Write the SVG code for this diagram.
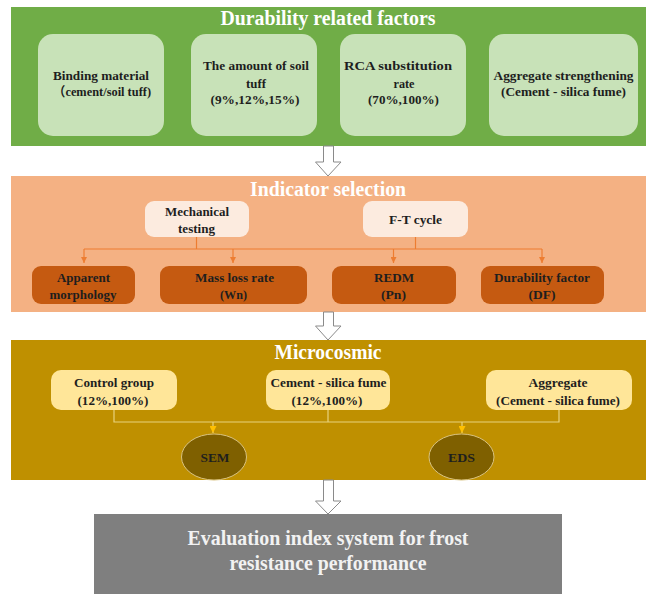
<svg xmlns="http://www.w3.org/2000/svg" width="646" height="594" viewBox="0 0 646 594">
<style>
text{font-family:"Liberation Serif","Times New Roman","Noto Sans CJK SC",serif;font-weight:bold;text-anchor:middle}
.ttl{font-size:20px;fill:#ffffff}
.b{font-size:13px;fill:#1e1e1e}
.big{font-size:21px;fill:#f2f2f2}
.harrow{fill:#ffffff;stroke:#8a8a8a;stroke-width:1}
.oline{fill:none;stroke:#ed7d31;stroke-width:1.2}
.yline{fill:none;stroke:#e8d27c;stroke-width:1.2}
</style>
<defs>
<marker id="ao" viewBox="0 0 10 10" refX="10" refY="5" markerWidth="6" markerHeight="6" orient="auto" markerUnits="userSpaceOnUse"><path d="M0,0 L10,5 L0,10 z" fill="#ed7d31"/></marker>
<marker id="ay" viewBox="0 0 10 10" refX="10" refY="5" markerWidth="7" markerHeight="7" orient="auto" markerUnits="userSpaceOnUse"><path d="M0,0 L10,5 L0,10 z" fill="#ffc000"/></marker>
</defs>
<rect width="646" height="594" fill="#ffffff"/>

<g id="panel-durability">
<rect x="11" y="7" width="640" height="139" fill="#70ad47"/>
<text class="ttl" x="328" y="25" textLength="215" lengthAdjust="spacingAndGlyphs">Durability related factors</text>
</g>
<g id="node-binding">
<rect x="38" y="34" width="126" height="102" rx="15" fill="#c8e2b8"/>
<text class="b" x="101" y="79.5" textLength="96" lengthAdjust="spacingAndGlyphs">Binding material</text>
<text class="b" x="102" y="95.5" textLength="98" lengthAdjust="spacingAndGlyphs">（cement/soil tuff)</text>
</g>
<g id="node-soil-tuff">
<rect x="191" y="34" width="126" height="102" rx="15" fill="#c8e2b8"/>
<text class="b" x="256" y="69.5" textLength="106" lengthAdjust="spacingAndGlyphs">The amount of soil</text>
<text class="b" x="256" y="87.5" textLength="20" lengthAdjust="spacingAndGlyphs">tuff</text>
<text class="b" x="255" y="103.5" textLength="89" lengthAdjust="spacingAndGlyphs">(9%,12%,15%)</text>
</g>
<g id="node-rca">
<rect x="340" y="34" width="126" height="102" rx="15" fill="#c8e2b8"/>
<text class="b" x="398" y="69.5" textLength="108" lengthAdjust="spacingAndGlyphs">RCA substitution</text>
<text class="b" x="404" y="87.5" textLength="21" lengthAdjust="spacingAndGlyphs">rate</text>
<text class="b" x="403.5" y="103.5" textLength="71" lengthAdjust="spacingAndGlyphs">(70%,100%)</text>
</g>
<g id="node-aggregate-strengthening">
<rect x="489" y="34" width="149" height="102" rx="15" fill="#c8e2b8"/>
<text class="b" x="563.5" y="79.5" textLength="140" lengthAdjust="spacingAndGlyphs">Aggregate strengthening</text>
<text class="b" x="563.5" y="95.5" textLength="125" lengthAdjust="spacingAndGlyphs">(Cement - silica fume)</text>
</g>

<g id="panel-indicator">
<rect x="11" y="176" width="640" height="136" fill="#f4b183"/>
<text class="ttl" x="328" y="196" textLength="156" lengthAdjust="spacingAndGlyphs">Indicator selection</text>
</g>
<g id="node-mechanical">
<rect x="145" y="201" width="104" height="36" rx="9" fill="#fcebdf"/>
<text class="b" x="197" y="215.5" textLength="64" lengthAdjust="spacingAndGlyphs">Mechanical</text>
<text class="b" x="196.5" y="232.5" textLength="37" lengthAdjust="spacingAndGlyphs">testing</text>
</g>
<g id="node-ft-cycle">
<rect x="363" y="201" width="105" height="36" rx="9" fill="#fcebdf"/>
<text class="b" x="415.5" y="223.5" textLength="53" lengthAdjust="spacingAndGlyphs">F-T cycle</text>
</g>
<g id="node-apparent">
<rect x="32" y="266" width="103" height="38" rx="9" fill="#c55a11"/>
<text class="b" x="83.5" y="281.5" textLength="53" lengthAdjust="spacingAndGlyphs">Apparent</text>
<text class="b" x="83" y="298.5" textLength="67" lengthAdjust="spacingAndGlyphs">morphology</text>
</g>
<g id="node-mass-loss">
<rect x="160" y="266" width="147" height="38" rx="9" fill="#c55a11"/>
<text class="b" x="234.5" y="281.5" textLength="79" lengthAdjust="spacingAndGlyphs">Mass loss rate</text>
<text class="b" x="233.5" y="298.5" textLength="27" lengthAdjust="spacingAndGlyphs">(Wn)</text>
</g>
<g id="node-redm">
<rect x="332" y="266" width="124" height="38" rx="9" fill="#c55a11"/>
<text class="b" x="394" y="281.5" textLength="40" lengthAdjust="spacingAndGlyphs">REDM</text>
<text class="b" x="393.5" y="298.5" textLength="25" lengthAdjust="spacingAndGlyphs">(Pn)</text>
</g>
<g id="node-durability-factor">
<rect x="481" y="266" width="123" height="38" rx="9" fill="#c55a11"/>
<text class="b" x="542" y="281.5" textLength="96" lengthAdjust="spacingAndGlyphs">Durability factor</text>
<text class="b" x="542" y="298.5" textLength="27" lengthAdjust="spacingAndGlyphs">(DF)</text>
</g>

<g id="panel-microcosmic">
<rect x="11" y="340" width="640" height="140" fill="#bf9000"/>
<text class="ttl" x="328" y="359" textLength="107" lengthAdjust="spacingAndGlyphs">Microcosmic</text>
</g>
<g id="node-control">
<rect x="51" y="370" width="126" height="40" rx="10" fill="#ffe699"/>
<text class="b" x="114" y="386.5" textLength="80" lengthAdjust="spacingAndGlyphs">Control group</text>
<text class="b" x="113" y="404.5" textLength="71" lengthAdjust="spacingAndGlyphs">(12%,100%)</text>
</g>
<g id="node-cement-silica">
<rect x="266" y="370" width="124" height="40" rx="10" fill="#ffe699"/>
<text class="b" x="328.5" y="386.5" textLength="116" lengthAdjust="spacingAndGlyphs">Cement - silica fume</text>
<text class="b" x="327" y="404.5" textLength="71" lengthAdjust="spacingAndGlyphs">(12%,100%)</text>
</g>
<g id="node-aggregate">
<rect x="486" y="370" width="146" height="40" rx="10" fill="#ffe699"/>
<text class="b" x="558" y="386.5" textLength="59" lengthAdjust="spacingAndGlyphs">Aggregate</text>
<text class="b" x="558" y="404.5" textLength="124" lengthAdjust="spacingAndGlyphs">(Cement - silica fume)</text>
</g>
<g id="node-sem">
<ellipse cx="214" cy="457" rx="32.5" ry="23" fill="#7f6000" stroke="#d8c280" stroke-width="1"/>
<text class="b" x="215" y="461.5" textLength="29" lengthAdjust="spacingAndGlyphs">SEM</text>
</g>
<g id="node-eds">
<ellipse cx="461.5" cy="457" rx="32.5" ry="23" fill="#7f6000" stroke="#d8c280" stroke-width="1"/>
<text class="b" x="461.5" y="461.5" textLength="27" lengthAdjust="spacingAndGlyphs">EDS</text>
</g>

<g id="node-evaluation">
<rect x="94" y="514" width="468" height="90" fill="#7f7f7f"/>
<text class="big" x="328" y="545" textLength="281" lengthAdjust="spacingAndGlyphs">Evaluation index system for frost</text>
<text class="big" x="328" y="570" textLength="197" lengthAdjust="spacingAndGlyphs">resistance performance</text>
</g>

<g id="connectors">
<path class="harrow" d="M323.5,146 L333.5,146 L333.5,162 L341,162 L328,176 L315.5,162 L323.5,162 Z"/>
<path class="harrow" d="M323.5,312 L333.5,312 L333.5,326 L341,326 L328,340 L315.5,326 L323.5,326 Z"/>
<path class="harrow" d="M323.5,480 L333.5,480 L333.5,501 L341,501 L328,514 L315.5,501 L323.5,501 Z"/>
<path class="oline" d="M196.5,237 V249 M415.5,237 V249 M84,249 H542"/>
<path class="oline" d="M84,249 V263" marker-end="url(#ao)"/>
<path class="oline" d="M233,249 V263" marker-end="url(#ao)"/>
<path class="oline" d="M393.5,249 V263" marker-end="url(#ao)"/>
<path class="oline" d="M542,249 V263" marker-end="url(#ao)"/>
<path class="yline" d="M114,410 V422 H559 V410 M328,410 V422"/>
<path class="yline" d="M213,422 V433" marker-end="url(#ay)"/>
<path class="yline" d="M462,422 V433" marker-end="url(#ay)"/>
</g>
</svg>
